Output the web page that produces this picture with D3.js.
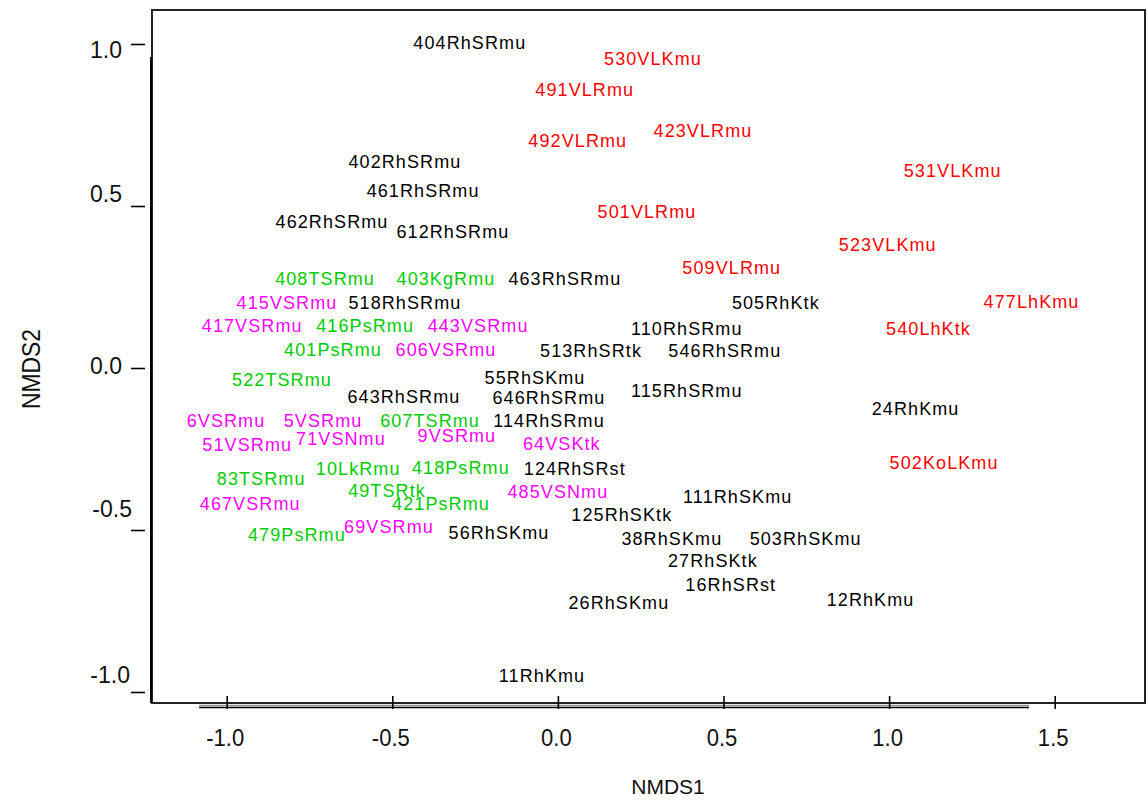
<!DOCTYPE html>
<html><head><meta charset="utf-8">
<script src="https://cdn.jsdelivr.net/npm/d3@7"></script>
<style>
html,body{margin:0;padding:0;background:#fff;}
svg{display:block;}
text{font-family:"Liberation Sans",Arial,sans-serif;}
</style></head>
<body>
<svg id="c" width="1148" height="801"></svg>
<script>
// ---- data (NMDS site scores) ----
const labels = ["404RhSRmu","402RhSRmu","461RhSRmu","462RhSRmu","612RhSRmu","463RhSRmu","518RhSRmu","505RhKtk","110RhSRmu","513RhSRtk","546RhSRmu","55RhSKmu","643RhSRmu","646RhSRmu","115RhSRmu","24RhKmu","114RhSRmu","124RhSRst","111RhSKmu","125RhSKtk","56RhSKmu","38RhSKmu","503RhSKmu","27RhSKtk","16RhSRst","12RhKmu","26RhSKmu","11RhKmu",
"530VLKmu","491VLRmu","492VLRmu","423VLRmu","531VLKmu","501VLRmu","523VLKmu","509VLRmu","477LhKmu","540LhKtk","502KoLKmu",
"408TSRmu","403KgRmu","416PsRmu","401PsRmu","522TSRmu","607TSRmu","83TSRmu","10LkRmu","418PsRmu","49TSRtk","421PsRmu","479PsRmu",
"415VSRmu","417VSRmu","443VSRmu","606VSRmu","6VSRmu","5VSRmu","51VSRmu","71VSNmu","9VSRmu","64VSKtk","485VSNmu","467VSRmu","69VSRmu"];
const nmds1 = [-0.266,-0.462,-0.407,-0.682,-0.317,0.021,-0.462,0.658,0.389,0.100,0.504,-0.069,-0.465,-0.027,0.389,1.080,-0.027,0.051,0.543,0.193,-0.178,0.344,0.748,0.468,0.522,0.944,0.184,-0.048,
0.287,0.081,0.060,0.438,1.192,0.269,0.996,0.525,1.430,1.119,1.166,
-0.703,-0.338,-0.582,-0.679,-0.833,-0.386,-0.896,-0.603,-0.293,-0.516,-0.353,-0.788,
-0.818,-0.923,-0.241,-0.338,-1.002,-0.709,-0.938,-0.655,-0.305,0.012,0.000,-0.929,-0.510];
const nmds2 = [1.006,0.638,0.548,0.452,0.421,0.276,0.201,0.201,0.121,0.053,0.053,-0.028,-0.087,-0.090,-0.071,-0.124,-0.161,-0.310,-0.396,-0.452,-0.508,-0.526,-0.526,-0.594,-0.669,-0.715,-0.724,-0.950,
0.954,0.858,0.703,0.734,0.610,0.483,0.381,0.310,0.204,0.121,-0.291,
0.276,0.276,0.130,0.056,-0.037,-0.161,-0.341,-0.310,-0.307,-0.378,-0.418,-0.514,
0.201,0.130,0.130,0.056,-0.161,-0.161,-0.235,-0.217,-0.207,-0.232,-0.381,-0.418,-0.489];
const groups = ["Rh","Rh","Rh","Rh","Rh","Rh","Rh","Rh","Rh","Rh","Rh","Rh","Rh","Rh","Rh","Rh","Rh","Rh","Rh","Rh","Rh","Rh","Rh","Rh","Rh","Rh","Rh","Rh",
"L","L","L","L","L","L","L","L","L","L","L",
"T","T","T","T","T","T","T","T","T","T","T","T",
"V","V","V","V","V","V","V","V","V","V","V","V","V"];
const groupKeys = ["Rh","L","T","V"];
const groupColors = ["#000000","#ff0000","#00cc00","#ff00ff"];
const xTicks = [-1.0,-0.5,0.0,0.5,1.0,1.5];
const yTicks = [-1.0,-0.5,0.0,0.5,1.0];
const xTitle = "NMDS1", yTitle = "NMDS2";

// ---- drawing ----
const svg = d3.select("#c");
const x = d3.scaleLinear().domain([-1, 1.5]).range([226.7, 1054.7]);
const y = d3.scaleLinear().domain([-1, 1]).range([692, 44]);
const color = d3.scaleOrdinal().domain(groupKeys).range(groupColors);
const fmt = d => d3.format(".1f")(d).replace("\u2212","-");

const frame = {l:152, t:10, r:1145, b:703};
svg.append("rect").attr("x",frame.l).attr("y",frame.t)
  .attr("width",frame.r-frame.l).attr("height",frame.b-frame.t)
  .attr("fill","none").attr("stroke","#222").attr("stroke-width",2);

// y axis line (inner)
svg.append("line").attr("x1",frame.l-1).attr("x2",frame.l-1).attr("y1",57).attr("y2",frame.b)
  .attr("stroke","#000").attr("stroke-width",2);
// x axis double line
svg.append("line").attr("x1",199).attr("x2",1029).attr("y1",705.5).attr("y2",705.5)
  .attr("stroke","#999").attr("stroke-width",1.5);
svg.append("line").attr("x1",199).attr("x2",1029).attr("y1",707.5).attr("y2",707.5)
  .attr("stroke","#000").attr("stroke-width",1.5);

// x axis
const gx = svg.append("g").attr("transform","translate(0,709)")
  .call(d3.axisBottom(x).tickValues(xTicks).tickFormat(fmt).tickSize(-13).tickPadding(0));
gx.select(".domain").remove();
gx.selectAll(".tick line").attr("stroke","#000").attr("stroke-width",1.6);
gx.selectAll(".tick text").attr("x",0).attr("y",0).attr("dy",null)
  .attr("font-size",24).attr("fill","#111").attr("font-family","Liberation Sans, Arial, sans-serif")
  .attr("transform","translate(-2,37) scale(0.92,1)");

// y axis
const yNudge = new Map([[1.0,[0,6]],[0.5,[0,-12]],[0.0,[0,-2]],[-0.5,[10,-21]],[-1.0,[8,-17]]]);
const gy = svg.append("g").attr("transform","translate(145,0)")
  .call(d3.axisLeft(y).tickValues(yTicks).tickFormat(fmt).tickSize(14).tickPadding(9));
gy.select(".domain").remove();
gy.selectAll(".tick line").attr("stroke","#000").attr("stroke-width",1.6);
gy.selectAll(".tick text").attr("font-size",23).attr("fill","#111")
  .attr("font-family","Liberation Sans, Arial, sans-serif")
  .each(function(d){ const n = yNudge.get(d)||[0,0];
    d3.select(this).attr("x", -23 + n[0]).attr("dy", (0.34*23 + n[1]) + "px"); });

// titles
svg.append("text").attr("transform","translate(668,794)").attr("text-anchor","middle")
  .attr("font-size",21).attr("fill","#111").text(xTitle);
svg.append("text").attr("transform","translate(40,369) rotate(-90) scale(0.88,1)")
  .attr("text-anchor","middle").attr("font-size",26).attr("fill","#111").text(yTitle);

// point labels
const pts = labels.map((l,i)=>({label:l, x:nmds1[i], y:nmds2[i], g:groups[i]}));
svg.append("g").selectAll("text").data(pts).join("text")
  .attr("x",d=>x(d.x)).attr("y",d=>y(d.y)).attr("dy","0.36em")
  .attr("text-anchor","middle").attr("font-size",18).attr("letter-spacing","1.1px")
  .attr("fill",d=>color(d.g)).text(d=>d.label);
</script>
</body></html>
